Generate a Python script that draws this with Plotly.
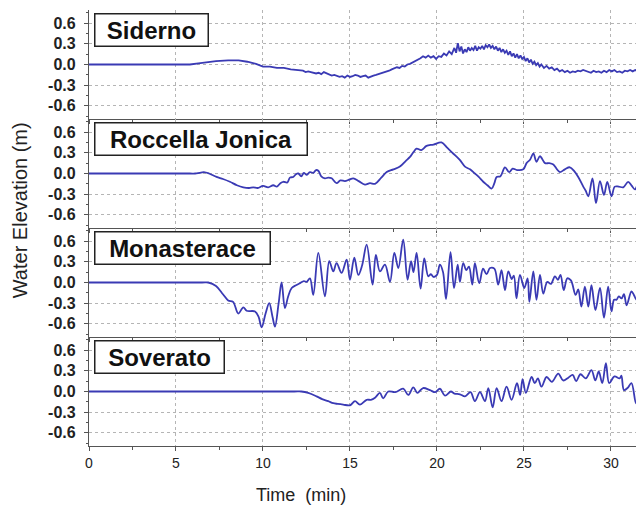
import plotly.graph_objects as go
from plotly.subplots import make_subplots

station_names = ["Siderno", "Roccella Jonica", "Monasterace", "Soverato"]

siderno_t = [0, 5.8, 6.4, 7.3, 8.0, 8.6, 9.1, 9.6, 10.0, 10.4, 10.8, 11.2, 11.6, 12.0,
             12.30, 12.45, 12.60, 12.75, 12.90, 13.05, 13.20, 13.35, 13.50, 13.65, 13.80, 13.95,
             14.10, 14.25, 14.40, 14.55, 14.70, 14.85, 15.00, 15.15, 15.30, 15.45, 15.60, 15.75,
             15.90, 16.05, 16.20, 16.35, 16.50, 16.65, 16.80, 16.95, 17.10, 17.25, 17.40, 17.55,
             17.70, 17.85, 18.00, 18.15, 18.30, 18.45, 18.60, 18.75, 18.90, 19.05, 19.20, 19.35,
             19.50, 19.65, 19.80, 19.95, 20.10, 20.25, 20.40, 20.55, 20.70, 20.85, 21.00, 21.10,
             21.20, 21.30, 21.40, 21.50, 21.60, 21.70, 21.80, 21.90, 22.00, 22.10, 22.20, 22.30,
             22.40, 22.50, 22.60, 22.70, 22.80, 22.90, 23.00, 23.10, 23.20, 23.30, 23.40, 23.50,
             23.60, 23.70, 23.80, 23.90, 24.00, 24.10, 24.20, 24.30, 24.40, 24.50, 24.60, 24.70,
             24.80, 24.90, 25.00, 25.10, 25.20, 25.30, 25.40, 25.50, 25.60, 25.70, 25.80, 25.90,
             26.00, 26.15, 26.30, 26.45, 26.60, 26.75, 26.90, 27.05, 27.20, 27.35, 27.50, 27.65,
             27.80, 27.95, 28.10, 28.25, 28.40, 28.55, 28.70, 28.85, 29.00, 29.15, 29.30, 29.45,
             29.60, 29.75, 29.90, 30.05, 30.20, 30.35, 30.50, 30.65, 30.80, 30.95, 31.10, 31.25,
             31.40, 31.55, 31.70, 31.80, 31.90]
siderno_h = [0, 0, 0.02, 0.05, 0.06, 0.06, 0.04, 0.01, -0.03, -0.03, -0.05, -0.05, -0.07, -0.08,
             -0.09, -0.11, -0.10, -0.11, -0.12, -0.13, -0.12, -0.14, -0.11, -0.13, -0.14, -0.16,
             -0.15, -0.17, -0.18, -0.17, -0.19, -0.16, -0.18, -0.17, -0.15, -0.16, -0.18, -0.17,
             -0.16, -0.19, -0.17, -0.16, -0.15, -0.14, -0.13, -0.12, -0.10, -0.09, -0.07, -0.06,
             -0.04, -0.05, -0.02, -0.03, 0.00, 0.01, 0.03, 0.05, 0.06, 0.09, 0.12, 0.10,
             0.13, 0.10, 0.12, 0.08, 0.12, 0.11, 0.16, 0.13, 0.19, 0.15, 0.24, 0.17,
             0.31, 0.19, 0.26, 0.16, 0.22, 0.18, 0.25, 0.20, 0.24, 0.21, 0.27, 0.20,
             0.25, 0.23, 0.27, 0.22, 0.28, 0.25, 0.29, 0.24, 0.27, 0.22, 0.26, 0.20,
             0.24, 0.18, 0.22, 0.17, 0.20, 0.14, 0.19, 0.12, 0.16, 0.10, 0.15, 0.09,
             0.13, 0.08, 0.11, 0.05, 0.09, 0.03, 0.07, 0.01, 0.04, -0.01, 0.02, -0.03,
             0.00, -0.05, -0.02, -0.06, -0.04, -0.08, -0.06, -0.10, -0.08, -0.11, -0.09, -0.12,
             -0.10, -0.11, -0.09, -0.10, -0.08, -0.09, -0.10, -0.12, -0.09, -0.11, -0.10, -0.12,
             -0.09, -0.11, -0.08, -0.10, -0.08, -0.11, -0.10, -0.12, -0.09, -0.10, -0.08, -0.10,
             -0.08, -0.09, -0.06, 0.01, -0.05]

roccella_t = [0, 5.8, 6.1, 6.35, 6.6, 6.9, 7.33, 7.7, 8.1, 8.5, 8.87, 9.2, 9.44, 9.7, 10.0, 10.3,
              10.59, 10.8, 11.0, 11.17, 11.4, 11.55, 11.74, 11.9, 12.03, 12.2, 12.35, 12.5,
              12.7, 12.9, 13.05, 13.18, 13.35, 13.56, 13.75, 13.95, 14.23, 14.45, 14.71, 14.95,
              15.19, 15.5, 15.86, 16.15, 16.44, 16.8, 17.11, 17.5, 17.87, 18.2, 18.45, 18.65,
              18.83, 19.1, 19.4, 19.8, 20.26, 20.6, 20.93, 21.3, 21.61, 21.9, 22.18, 22.4,
              22.66, 22.9, 23.14, 23.3, 23.43, 23.65, 23.91, 24.15, 24.35, 24.6, 24.96, 25.15,
              25.35, 25.54, 25.72, 25.92, 26.21, 26.45, 26.69, 26.9, 27.07, 27.35, 27.64, 27.9,
              28.12, 28.41, 28.55, 28.7, 28.94, 29.14, 29.37, 29.6, 29.79, 30.03, 30.22, 30.45,
              30.71, 30.99, 31.2, 31.38, 31.67, 31.9]
roccella_h = [0, 0, 0.00, 0.01, 0.02, 0.00, -0.05, -0.08, -0.12, -0.17, -0.20, -0.21, -0.20, -0.21, -0.18, -0.20,
              -0.17, -0.19, -0.14, -0.12, -0.13, -0.06, -0.05, -0.01, 0.00, -0.04, 0.01, -0.02,
              0.02, 0.01, 0.05, 0.04, -0.04, -0.07, -0.06, -0.07, -0.14, -0.10, -0.11, -0.09,
              -0.07, -0.11, -0.16, -0.14, -0.15, -0.06, 0.02, 0.06, 0.10, 0.18, 0.24, 0.31,
              0.36, 0.34, 0.40, 0.42, 0.45, 0.37, 0.29, 0.20, 0.10, 0.06, 0.00, -0.05,
              -0.12, -0.17, -0.22, -0.14, -0.05, -0.04, 0.09, 0.02, 0.07, 0.05, 0.06, 0.15,
              0.20, 0.29, 0.17, 0.25, 0.15, 0.15, 0.13, 0.06, 0.02, 0.06, 0.09, 0.03,
              -0.05, -0.19, -0.25, -0.33, -0.07, -0.43, -0.11, -0.31, -0.12, -0.33, -0.19, -0.19,
              -0.20, -0.12, -0.18, -0.23, -0.10, -0.12]

monasterace_t = [0, 6.5, 6.85, 7.3, 7.7, 8.0, 8.28, 8.58, 8.87, 9.06, 9.54, 9.75, 9.92, 10.15, 10.36,
                 10.55, 10.69, 10.9, 11.07, 11.26, 11.45, 11.65, 11.9, 12.13, 12.35, 12.51, 12.70,
                 12.89, 13.18, 13.56, 13.81, 14.04, 14.23, 14.52, 14.81, 15.0, 15.25, 15.48, 15.7,
                 15.96, 16.30, 16.49, 16.72, 17.01, 17.3, 17.55, 17.78, 18.06, 18.31, 18.51, 18.65,
                 18.83, 19.06, 19.27, 19.50, 19.65, 19.8, 20.0, 20.17, 20.35, 20.52, 20.78, 20.98,
                 21.19, 21.32, 21.51, 21.68, 21.84, 22.03, 22.18, 22.43, 22.65, 22.85, 23.05, 23.3,
                 23.52, 23.71, 23.91, 24.10, 24.3, 24.42, 24.57, 24.77, 25.02, 25.21, 25.31, 25.54,
                 25.72, 25.92, 26.11, 26.34, 26.55, 26.78, 26.95, 27.1, 27.29, 27.49, 27.7, 27.97,
                 28.12, 28.3, 28.5, 28.7, 28.88, 29.11, 29.37, 29.6, 29.84, 30.03, 30.18, 30.32,
                 30.45, 30.61, 30.75, 30.9, 31.18, 31.32, 31.47, 31.65, 31.9]
monasterace_h = [0, 0, 0, -0.05, -0.17, -0.26, -0.28, -0.45, -0.36, -0.41, -0.42, -0.50, -0.65, -0.45, -0.30,
                 -0.50, -0.64, -0.30, 0.00, -0.37, -0.20, -0.08, -0.04, -0.01, 0.02, 0.01, 0.06,
                 -0.18, 0.43, -0.20, 0.31, 0.16, 0.28, 0.14, 0.33, 0.04, 0.36, 0.11, 0.25,
                 0.55, -0.03, 0.40, 0.16, 0.26, 0.01, 0.43, 0.21, 0.62, 0.04, 0.31, 0.15,
                 0.43, -0.09, 0.35, 0.09, 0.12, 0.08, 0.11, 0.26, 0.15, -0.24, 0.44, -0.08,
                 0.26, 0.01, 0.28, 0.18, 0.23, -0.03, 0.28, -0.01, 0.20, 0.12, 0.21, 0.20,
                 -0.03, 0.18, -0.11, 0.16, 0.05, 0.10, -0.23, 0.11, -0.08, 0.06, -0.28, 0.16,
                 -0.25, 0.11, -0.16, 0.01, -0.02, 0.09, 0.04, 0.11, -0.11, 0.06, 0.03, -0.18,
                 -0.10, -0.35, -0.06, -0.35, -0.04, -0.40, -0.08, -0.51, -0.06, -0.42, -0.25, -0.25,
                 -0.20, -0.23, -0.17, -0.33, -0.13, -0.18, -0.25, -0.20, -0.27]

soverato_t = [0, 11.8, 12.2, 12.6, 13.08, 13.4, 13.75, 14.04, 14.3, 14.61, 15.0, 15.29, 15.57, 15.96,
              16.2, 16.44, 16.72, 16.91, 17.2, 17.6, 18.06, 18.35, 18.64, 18.87, 19.2, 19.6,
              19.9, 20.17, 20.46, 20.8, 21.0, 21.32, 21.61, 21.93, 22.18, 22.47, 22.76, 22.95,
              23.2, 23.43, 23.71, 24.0, 24.29, 24.6, 24.78, 24.92, 25.11, 25.44, 25.62, 25.8,
              26.01, 26.3, 26.6, 26.97, 27.25, 27.55, 27.8, 28.0, 28.25, 28.55, 28.88, 29.1,
              29.3, 29.5, 29.71, 29.9, 30.2, 30.5, 30.6, 30.75, 30.95, 31.18, 31.44, 31.63, 31.9]
soverato_h = [0, 0, 0, -0.02, -0.07, -0.11, -0.14, -0.17, -0.18, -0.19, -0.20, -0.14, -0.19, -0.12,
              -0.12, -0.09, -0.02, -0.10, 0.00, -0.01, 0.04, -0.05, 0.06, -0.02, 0.05, 0.02,
              -0.01, 0.04, -0.06, 0.00, -0.03, -0.04, -0.07, -0.01, -0.14, -0.01, -0.14, 0.05,
              -0.23, 0.05, -0.14, 0.07, -0.12, 0.12, -0.05, 0.18, -0.02, 0.21, 0.12, 0.19,
              0.07, 0.21, 0.14, 0.26, 0.16, 0.20, 0.24, 0.15, 0.25, 0.19, 0.31, 0.16,
              0.29, 0.12, 0.41, 0.12, 0.22, 0.19, 0.23, 0.02, 0.05, 0.12, -0.17, -0.02, -0.05]

y_tick_vals = [-0.6, -0.3, 0.0, 0.3, 0.6]
y_tick_text = ["-0.6", "-0.3", "0.0", "0.3", "0.6"]
x_tick_vals = [0, 5, 10, 15, 20, 25, 30]
x_title = "Time  (min)"
y_title = "Water Elevation (m)"

series = [(siderno_t, siderno_h, "linear"),
          (roccella_t, roccella_h, "spline"),
          (monasterace_t, monasterace_h, "spline"),
          (soverato_t, soverato_h, "spline")]

LINE = "#3a3ab4"
AX = "#555555"
GRID = "#b5b5b5"
FONT = "Liberation Sans, Arial, sans-serif"

# the page body has an 8px margin, so the figure is drawn 8px smaller and offset
PAGE_OFF = 8

fig = make_subplots(rows=4, cols=1, shared_xaxes=True, vertical_spacing=0)

for i, (t, h, shape) in enumerate(series):
    line = dict(color=LINE, width=1.8, shape=shape)
    if shape == "spline":
        line["smoothing"] = 1.0
    fig.add_trace(go.Scatter(x=t, y=h, mode="lines", line=line, showlegend=False,
                             hoverinfo="skip"), row=i + 1, col=1)
    fig.update_yaxes(row=i + 1, col=1, range=[-0.79, 0.79], tickvals=y_tick_vals,
                     ticktext=y_tick_text, showline=True, linecolor=AX, linewidth=1.2,
                     ticks="outside", ticklen=4, tickcolor=AX, tickwidth=1,
                     minor=dict(dtick=0.15, tick0=0, ticks="outside", ticklen=2, tickcolor=AX,
                                showgrid=False),
                     showgrid=True, gridcolor=GRID, griddash="dot", gridwidth=1,
                     zeroline=False, ticklabelstandoff=5,
                     tickfont=dict(family=FONT, size=16, color="#222222", weight="bold"))
    fig.update_xaxes(row=i + 1, col=1, range=[0, 31.9], tickvals=x_tick_vals,
                     showline=True, linecolor=AX, linewidth=1.2, mirror=False,
                     ticks="outside", ticklen=4, tickcolor=AX, tickwidth=1,
                     minor=dict(dtick=2.5, tick0=0, ticks="outside", ticklen=3, tickcolor=AX,
                                showgrid=False),
                     showgrid=True, gridcolor=GRID, griddash="dot", gridwidth=1,
                     zeroline=False, showticklabels=(i == 3),
                     tickfont=dict(family=FONT, size=14, color="#222222"))

box_widths = [108, 207, 170, 124]
for i, name in enumerate(station_names):
    yref = "y domain" if i == 0 else f"y{i + 1} domain"
    xref = "x domain" if i == 0 else f"x{i + 1} domain"
    fig.add_annotation(text=name, xref=xref, yref=yref, x=0.009, y=0.968,
                       xanchor="left", yanchor="top", showarrow=False,
                       font=dict(family=FONT, size=24, color="#111111", weight="bold"),
                       bordercolor="#222222", borderwidth=1.5, borderpad=2,
                       bgcolor="white", width=box_widths[i], height=27)

fig.add_annotation(text=y_title, xref="paper", yref="paper", x=-0.124, y=0.541,
                   xanchor="center", yanchor="middle", textangle=-90, showarrow=False,
                   font=dict(family=FONT, size=20, color="#222222"))
fig.add_annotation(text=x_title, xref="paper", yref="paper", x=0.382, y=-0.112,
                   xanchor="center", yanchor="middle", showarrow=False,
                   font=dict(family=FONT, size=18, color="#222222"))

fig.update_layout(width=644 - PAGE_OFF, height=509 - PAGE_OFF,
                  margin=dict(l=89 - PAGE_OFF, r=0, t=10 - PAGE_OFF, b=63),
                  plot_bgcolor="white", paper_bgcolor="white",
                  font=dict(family=FONT))

fig.write_html("out.html")
